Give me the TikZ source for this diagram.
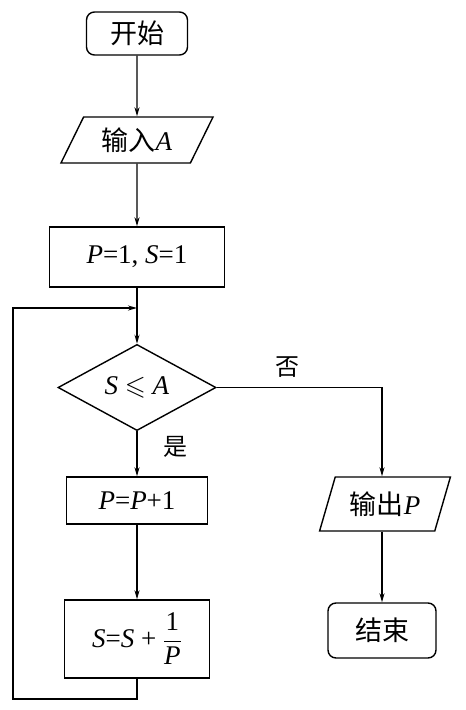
\documentclass[tikz,border=0pt]{standalone}
\usepackage{amsmath,amssymb}
\usepackage{fontspec}
\setmainfont{Liberation Serif}
\newfontfamily\cjk{Noto Sans CJK SC}
\usetikzlibrary{shapes.geometric,arrows.meta}
\begin{document}
\begin{tikzpicture}[x=1pt,y=1pt,line width=1.4pt,
  base/.style={draw,font=\fontsize{27}{32}\selectfont,inner sep=0pt},
  term/.style={base,rectangle,rounded corners=8pt},
  proc/.style={base,rectangle},
  io/.style={base,trapezium,trapezium stretches=true},
  dec/.style={base,diamond},
  arr/.style={-{Stealth[length=9pt,width=5pt]}},
  lbl/.style={font=\cjk\fontsize{24}{28}\selectfont}]
\useasboundingbox (0,0) rectangle (466,-710);
\node[term,minimum width=101pt,minimum height=43pt] (start) at (137,-33.5) {\cjk 开始};
\node[io,trapezium left angle=59,trapezium right angle=121,minimum width=153pt,minimum height=46pt] (in) at (137,-140) {{\cjk 输入}\textit{A}};
\node[proc,minimum width=175pt,minimum height=60pt] (init) at (137,-257) {\textit{P}=1, \textit{S}=1};
\node[dec,minimum width=158pt,minimum height=67pt] (dec) at (137,-387.5) {\textit{S} $\leqslant$ \textit{A}};
\node[proc,minimum width=141pt,minimum height=47pt] (inc) at (137,-500.5) {\textit{P}=\textit{P}+1};
\node[proc,minimum width=145pt,minimum height=78pt] (upd) at (137,-639) {\textit{S}=\textit{S} + $\dfrac{\text{1}}{\text{\textit{P}}}$};
\node[io,trapezium left angle=66,trapezium right angle=114,minimum width=132pt,minimum height=54pt] (out) at (385,-504) {{\cjk 输出}\textit{P}};
\node[term,minimum width=108pt,minimum height=55pt] (end) at (382,-630.5) {\cjk 结束};
\coordinate (j) at (137,-308);
\coordinate (c1) at (137,-699);
\coordinate (c2) at (13,-699);
\coordinate (c3) at (13,-308);
\coordinate (d1) at (382,-387.5);
\draw[arr] (start) -- (in);
\draw[arr] (in) -- (init);
\draw[arr] (init) -- (dec);
\draw[arr] (dec) -- (inc);
\draw[arr] (inc) -- (upd);
\draw[arr] (upd.south) -- (c1) -- (c2) -- (c3) -- (j);
\draw[arr] (dec.east) -- (d1) -- (d1 |- out.north);
\draw[arr] (out.south -| end.north) -- (end.north);
\node[lbl] (no) at (287,-367) {否};
\node[lbl] (yes) at (175,-447) {是};
\end{tikzpicture}
\end{document}
